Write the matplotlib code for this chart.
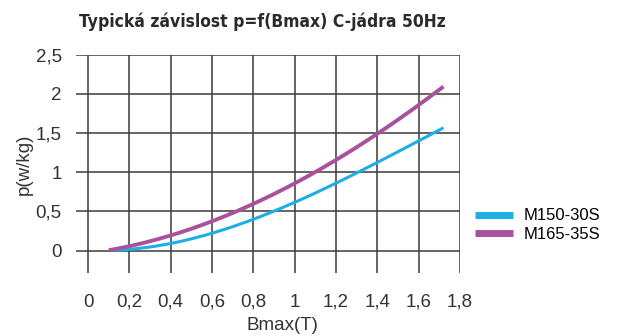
import numpy as np
import matplotlib
matplotlib.use("Agg")
import matplotlib.pyplot as plt

# data
b_blue = [0.12, 0.2, 0.4, 0.6, 0.8, 1.0, 1.2, 1.4, 1.6, 1.72]
p_blue = [0.0, 0.02, 0.1, 0.22, 0.4, 0.61, 0.86, 1.13, 1.41, 1.56]
b_pink = [0.1, 0.2, 0.4, 0.6, 0.8, 1.0, 1.2, 1.4, 1.6, 1.72]
p_pink = [0.0, 0.06, 0.2, 0.38, 0.59, 0.85, 1.16, 1.5, 1.86, 2.09]
names = ["M150-30S", "M165-35S"]
xticks = [0, 0.2, 0.4, 0.6, 0.8, 1, 1.2, 1.4, 1.6, 1.8]
yticks = [0, 0.5, 1, 1.5, 2, 2.5]

plt.rcParams['font.family'] = ['Liberation Sans', 'DejaVu Sans']

fig = plt.figure(figsize=(6.38, 3.36), dpi=100)
ax = fig.add_axes([0.1185, 0.1875, 0.6025, 0.6495])

ax.set_xlim(-0.06, 1.8)
ax.set_ylim(-0.285, 2.5)
for s in ax.spines.values():
    s.set_visible(False)

for x in xticks:
    ax.axvline(x, color='#3a3a3a', lw=1.1, zorder=1)
for y in yticks:
    ax.axhline(y, color='#3a3a3a', lw=1.1, zorder=1)

def smooth(xs, ys):
    xx = np.linspace(xs[0], xs[-1], 200)
    c = np.polyfit(xs, ys, 3)
    return xx, np.polyval(c, xx)

xb, yb = smooth(b_blue, p_blue)
xp, yp = smooth(b_pink, p_pink)
ax.plot(xb, yb, color='#1eaee6', lw=2.2, zorder=3, label=names[0], solid_capstyle='butt')
ax.plot(xp, yp, color='#a9519c', lw=2.8, zorder=3, label=names[1], solid_capstyle='butt')

ax.set_xticks(xticks)
ax.set_yticks(yticks)
ax.set_xticklabels([str(v).replace('.', ',') for v in xticks], fontsize=13.5, color='#333333')
ax.set_yticklabels([str(v).replace('.', ',') for v in yticks], fontsize=13.5, color='#333333')
ax.tick_params(length=0, pad=10)
ax.tick_params(axis='x', pad=15)

ax.set_xlabel('Bmax(T)', fontsize=13.5, color='#333333', va='top')
ax.xaxis.set_label_coords(0.537, -0.2)
ax.set_ylabel('p(w/kg)', fontsize=13.5, color='#333333', labelpad=2)

fig.text(0.412, 0.935, 'Typická závislost p=f(Bmax) C-jádra 50Hz', ha='center', va='center',
         fontsize=12.5, fontweight='bold', fontstretch='condensed', color='#2a2a2a',
         family=['DejaVu Sans'])

ax.legend(loc='center left', bbox_to_anchor=(1.0, 0.22), frameon=False, fontsize=12,
          handlelength=2.3, handleheight=0.6, labelspacing=0.2, handletextpad=0.6)
for line in ax.get_legend().get_lines():
    line.set_linewidth(5)

fig.savefig('out.png', dpi=100)
